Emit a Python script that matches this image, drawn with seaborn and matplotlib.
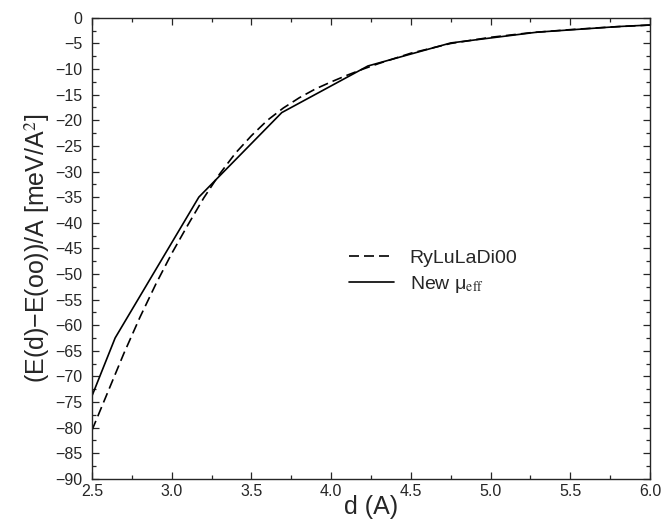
import numpy as np
import pandas as pd
import seaborn as sns
import matplotlib.pyplot as plt
from matplotlib.ticker import MultipleLocator

# values
d_ryl = [2.5, 2.6, 2.7, 2.8, 2.9, 3.0, 3.1, 3.2, 3.3, 3.4, 3.5, 3.6, 3.7, 3.8, 3.9,
         4.0, 4.1, 4.2, 4.3, 4.5, 4.75, 5.0, 5.25, 5.5, 5.75, 6.0]
e_ryl = [-80.5, -73.0, -65.5, -58.5, -52.0, -46.0, -40.5, -35.2, -30.5, -26.4, -23.0,
         -20.0, -17.6, -15.6, -13.9, -12.5, -11.2, -10.0, -8.9, -6.9, -5.0, -3.8,
         -2.9, -2.3, -1.8, -1.4]

d_new = [2.5, 2.645, 3.17, 3.69, 4.23, 4.75, 5.29, 5.8, 6.0]
e_new = [-73.8, -62.5, -35.0, -18.5, -9.4, -4.9, -2.8, -1.7, -1.4]

labels = ["RyLuLaDi00", r"New μ$_{\rm eff}$"]

sns.set_style("ticks")
plt.rcParams["font.family"] = ["Liberation Sans", "DejaVu Sans"]
plt.rcParams["mathtext.fontset"] = "stix"
plt.rcParams["axes.unicode_minus"] = True

fig, ax = plt.subplots(figsize=(6.62, 5.25), dpi=100)
fig.subplots_adjust(left=0.139, right=0.982, top=0.966, bottom=0.088)

ryl = pd.DataFrame({"d": d_ryl, "E": e_ryl})
new = pd.DataFrame({"d": d_new, "E": e_new})
sns.lineplot(data=ryl, x="d", y="E", ax=ax, color="black", lw=1.2,
             label=labels[0])
sns.lineplot(data=new, x="d", y="E", ax=ax, color="black", lw=1.2,
             label=labels[1])
ax.lines[0].set_dashes((6, 3))

ax.set_xlim(2.5, 6.0)
ax.set_ylim(-90, 0)
ax.xaxis.set_major_locator(MultipleLocator(0.5))
ax.xaxis.set_minor_locator(MultipleLocator(0.25))
ax.yaxis.set_major_locator(MultipleLocator(5))
ax.yaxis.set_minor_locator(MultipleLocator(2.5))
ax.xaxis.set_major_formatter(plt.FormatStrFormatter("%.1f"))
ax.tick_params(which="both", direction="in", top=True, right=True,
               labelsize=11.5, width=0.9)
ax.tick_params(which="major", length=5)
ax.tick_params(which="minor", length=3)
ax.tick_params(axis="y", pad=7)
ax.tick_params(axis="x", pad=4)
for s in ax.spines.values():
    s.set_linewidth(1.0)

ax.set_xlabel("d (A)", fontsize=18, labelpad=-3)
ax.set_ylabel("(E(d)\u2212E(oo))/A [meV/A$^{2}$]", fontsize=18, labelpad=2)

ax.legend(loc="center left", bbox_to_anchor=(0.43, 0.448), frameon=False,
          fontsize=14, handlelength=2.3, handletextpad=0.8, labelspacing=0.35)

fig.savefig("out.png", dpi=100)
